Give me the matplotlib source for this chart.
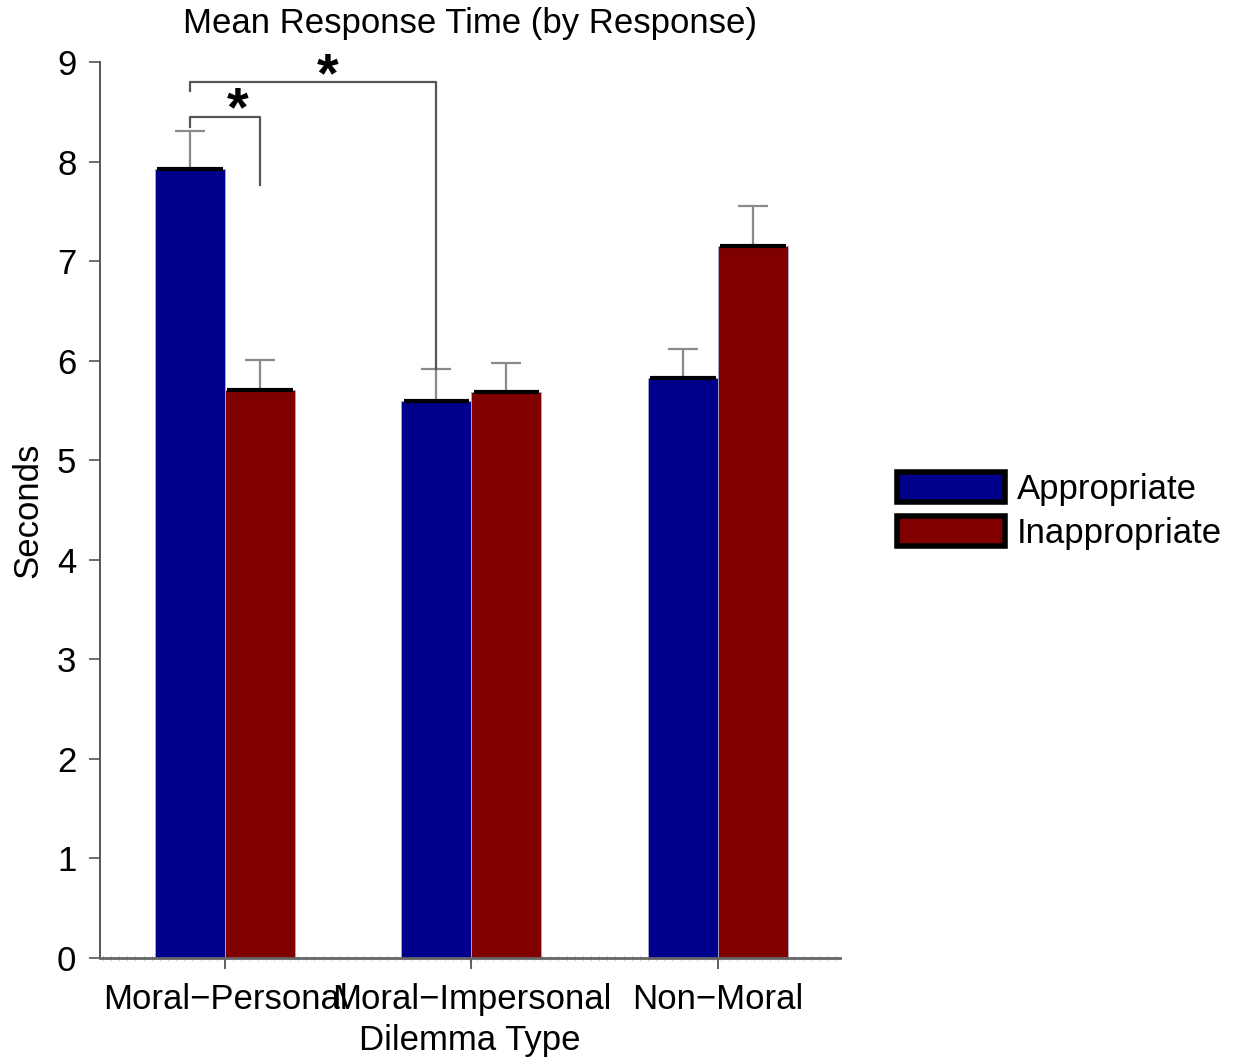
import matplotlib
matplotlib.use("Agg")
import matplotlib.pyplot as plt
import numpy as np
from matplotlib.patches import Patch
from matplotlib.ticker import MultipleLocator

plt.rcParams['font.family'] = ['Liberation Sans', 'DejaVu Sans']

categories = ["Moral\u2212Personal", "Moral\u2212Impersonal", "Non\u2212Moral"]
series_names = ["Appropriate", "Inappropriate"]
appropriate = [7.93, 5.59, 5.83]
inappropriate = [5.71, 5.69, 7.15]
appropriate_err = [0.38, 0.33, 0.29]
inappropriate_err = [0.30, 0.29, 0.40]
colors = ["#00008C", "#800000"]

fig = plt.figure(figsize=(12.35, 10.63), dpi=100)
ax = fig.add_axes([100/1235, 105/1063, 740/1235, 896/1063])

x = np.arange(len(categories))
w = 0.284
fs = 25

for off, vals, errs, col in [(-w/2, appropriate, appropriate_err, colors[0]),
                             (w/2, inappropriate, inappropriate_err, colors[1])]:
    xs = x + off
    ax.bar(xs, vals, width=w, color=col, edgecolor='#aaaacc', linewidth=0.6, zorder=2)
    ax.errorbar(xs, vals, yerr=[np.zeros(len(vals)), errs], fmt='none',
                ecolor='#8a8a8a', elinewidth=1.6, capsize=11, capthick=1.6, zorder=1)
    ax.hlines(vals, xs - w/2 + 0.01, xs + w/2 - 0.01, colors='black', linewidth=3, zorder=3)

ax.set_xlim(-0.507, 2.495)
ax.set_ylim(0, 9)
ax.set_yticks(range(0, 10))
ax.set_xticks(x)
ax.set_xticklabels(categories)
ax.xaxis.set_minor_locator(MultipleLocator(0.033))
ax.tick_params(axis='x', which='major', direction='out', length=8, width=1.2,
               color='#444444', labelsize=fs, pad=10)
ax.tick_params(axis='x', which='minor', direction='inout', length=3, width=0.7, color='#999999')
ax.tick_params(axis='y', direction='out', length=8, width=1.2, color='#555555',
               labelsize=fs, pad=9)

for s in ['top', 'right']:
    ax.spines[s].set_visible(False)
ax.spines['left'].set_color('#555555')
ax.spines['left'].set_linewidth(1.4)
ax.spines['bottom'].set_color('#666666')
ax.spines['bottom'].set_linewidth(2)

ax.set_ylabel("Seconds", fontsize=fs, labelpad=9)
ax.set_xlabel("Dilemma Type", fontsize=fs, labelpad=6)
ax.set_title("Mean Response Time (by Response)", fontsize=fs, pad=21)

# significance brackets
bx = [-w/2, w/2, 1 - w/2]
ax.plot([bx[0], bx[0], bx[1], bx[1]], [8.35, 8.45, 8.45, 7.76], color='#555555', lw=1.6, clip_on=False)
ax.plot([bx[0], bx[0], bx[2], bx[2]], [8.71, 8.80, 8.80, 5.92], color='#555555', lw=1.6, clip_on=False)
ax.text(0.05, 8.24, "*", fontsize=40, fontweight='bold', ha='center', va='bottom', clip_on=False)
ax.text(0.415, 8.59, "*", fontsize=40, fontweight='bold', ha='center', va='bottom', clip_on=False)

handles = [Patch(facecolor=c, edgecolor='black', linewidth=4, joinstyle='round') for c in colors]
fig.legend(handles, series_names, loc='center left', bbox_to_anchor=(897/1235, 1 - 511/1063),
           frameon=False, fontsize=fs, handlelength=3.1, handleheight=0.95,
           handletextpad=0.35, labelspacing=0.3, borderpad=0, borderaxespad=0)

fig.savefig("out.png", dpi=100)
